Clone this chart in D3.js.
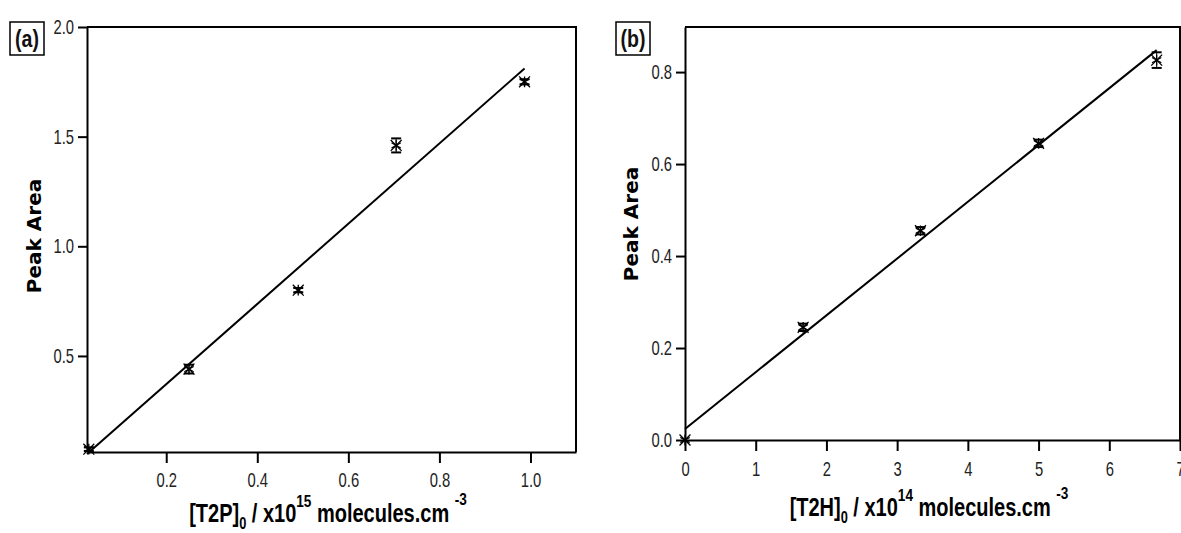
<!DOCTYPE html>
<html>
<head>
<meta charset="utf-8">
<script src="https://cdn.jsdelivr.net/npm/d3@7"></script>
<style>
  body { margin: 0; background: #fff; }
  .tick text { font-family: "Liberation Sans", Arial, sans-serif; font-size: 20px; fill: #222; }
</style>
</head>
<body>
<script>
// panel (a): [T2P]0 (x10^15 molecules/cm3) vs peak area
const t2pConc = [0.03, 0.25, 0.49, 0.705, 0.987];
const t2pArea = [0.075, 0.44, 0.80, 1.46, 1.75];
const t2pErr = [0.008, 0.02, 0.01, 0.032, 0.012];
const t2pFit = [1.83, 0.005];           // slope, intercept
const t2pFitRange = [0.026, 0.987];
const t2pXTicks = [0.2, 0.4, 0.6, 0.8, 1.0];
const t2pYTicks = [0.5, 1.0, 1.5, 2.0];

// panel (b): [T2H]0 (x10^14 molecules/cm3) vs peak area
const t2hConc = [0, 1.67, 3.33, 5.0, 6.67];
const t2hArea = [0, 0.245, 0.455, 0.645, 0.826];
const t2hErr = [0, 0.008, 0.008, 0.008, 0.017];
const t2hFit = [0.1235, 0.024];
const t2hFitRange = [0, 6.67];
const t2hXTicks = [0, 1, 2, 3, 4, 5, 6, 7];
const t2hYTicks = [0.0, 0.2, 0.4, 0.6, 0.8];

const W = 1181, H = 533;
const narrow = 0.8;   // no narrow font installed, squeeze Liberation Sans instead
const tickNarrow = 0.74;

const svg = d3.select("body").append("svg")
  .attr("width", W)
  .attr("height", H);

function squeeze(sel, k) {
  sel.each(function() {
    const t = d3.select(this);
    t.attr("x", +t.attr("x") / k).attr("transform", `scale(${k},1)`);
  });
}

function drawPanel(p) {
  const x = d3.scaleLinear().domain(p.xDomain).range([p.left, p.right]);
  const y = d3.scaleLinear().domain(p.yDomain).range([p.bottom, p.top]);
  const g = svg.append("g");

  // top and right frame
  g.append("path")
    .attr("d", `M${p.left},${p.top}H${p.right}V${p.bottom}`)
    .attr("fill", "none")
    .attr("stroke", "#000")
    .attr("stroke-width", 2);

  // axes
  const xa = g.append("g")
    .attr("transform", `translate(0,${p.bottom})`)
    .call(d3.axisBottom(x).tickValues(p.xTicks).tickSize(11).tickSizeOuter(0)
      .tickPadding(p.xPad).tickFormat(p.xFmt));
  const ya = g.append("g")
    .attr("transform", `translate(${p.left},0)`)
    .call(d3.axisLeft(y).tickValues(p.yTicks).tickSize(9).tickSizeOuter(0)
      .tickPadding(4).tickFormat(d3.format(".1f")));
  [xa, ya].forEach(a => {
    a.select(".domain").attr("stroke-width", 2);
    a.selectAll(".tick line").attr("stroke-width", 2);
    squeeze(a.selectAll(".tick text"), tickNarrow);
  });

  // fit line
  const line = d3.line().x(d => x(d)).y(d => y(p.fit[0] * d + p.fit[1]));
  g.append("path")
    .datum(p.fitRange)
    .attr("d", line)
    .attr("fill", "none")
    .attr("stroke", "#000")
    .attr("stroke-width", 2);

  const pts = p.xs.map((d, i) => ({ x: d, y: p.ys[i], e: p.err[i] }));

  // error bars
  const eb = g.selectAll(".eb").data(pts).enter().append("g")
    .attr("stroke", "#000");
  eb.append("line")
    .attr("x1", d => x(d.x)).attr("x2", d => x(d.x))
    .attr("y1", d => y(d.y - d.e)).attr("y2", d => y(d.y + d.e))
    .attr("stroke-width", 1);
  [-1, 1].forEach(s => {
    eb.append("line")
      .attr("x1", d => x(d.x) - 5).attr("x2", d => x(d.x) + 5)
      .attr("y1", d => y(d.y + s * d.e)).attr("y2", d => y(d.y + s * d.e))
      .attr("stroke-width", d => d.e > 0 ? 2 : 0);
  });

  // asterisk markers
  [d3.symbolAsterisk, d3.symbolTimes].forEach(t => {
    g.selectAll(null).data(pts).enter().append("path")
      .attr("d", d3.symbol(t, 80))
      .attr("transform", d => `translate(${x(d.x)},${y(d.y)})`)
      .attr("fill", "none")
      .attr("stroke", "#000")
      .attr("stroke-width", 1.3);
  });

  // y title
  g.append("text")
    .attr("transform", `translate(${p.yTitleX},${p.yTitleY}) rotate(-90)`)
    .attr("text-anchor", "middle")
    .attr("font-family", "DejaVu Sans, sans-serif")
    .attr("font-weight", "bold")
    .attr("font-size", 20)
    .text("Peak Area");

  // x title with sub/superscripts
  const t = g.append("text")
    .attr("transform", `translate(${p.xTitleX},${p.xTitleY}) scale(${narrow},1)`)
    .attr("text-anchor", "middle")
    .attr("font-family", "Liberation Sans, Arial, sans-serif")
    .attr("font-weight", "bold")
    .attr("font-size", 25);
  t.append("tspan").text(p.species);
  t.append("tspan").attr("dy", 7).attr("font-size", 16).text("0");
  t.append("tspan").attr("dy", -7).text(" / x10");
  t.append("tspan").attr("dy", -15).attr("font-size", 17).text(p.power);
  t.append("tspan").attr("dy", 15).text(" molecules.cm");
  t.append("tspan").attr("dy", -17).attr("dx", 7).attr("font-size", 17).text("-3");

  // panel letter in box
  g.append("rect")
    .attr("x", p.boxX).attr("y", 22).attr("width", 34).attr("height", 33)
    .attr("fill", "none").attr("stroke", "#000").attr("stroke-width", 1.5);
  g.append("text")
    .attr("transform", `translate(${p.boxX + 17},47) scale(0.85,1)`)
    .attr("text-anchor", "middle")
    .attr("font-family", "Liberation Sans, Arial, sans-serif")
    .attr("font-weight", "bold")
    .attr("font-size", 23)
    .attr("fill", "#111")
    .text(p.letter);
}

drawPanel({
  left: 87, right: 576, top: 27, bottom: 452,
  xDomain: [0.026, 1.10], yDomain: [0.062, 2.0],
  xTicks: t2pXTicks, yTicks: t2pYTicks, xFmt: d3.format(".1f"), xPad: 10,
  xs: t2pConc, ys: t2pArea, err: t2pErr,
  fit: t2pFit, fitRange: t2pFitRange,
  yTitleX: 41, yTitleY: 236,
  xTitleX: 328, xTitleY: 522,
  species: "[T2P]", power: "15",
  boxX: 10, letter: "(a)"
});

drawPanel({
  left: 685, right: 1180, top: 27, bottom: 440,
  xDomain: [0, 7], yDomain: [0, 0.898],
  xTicks: t2hXTicks, yTicks: t2hYTicks, xFmt: d3.format("d"), xPad: 11,
  xs: t2hConc, ys: t2hArea, err: t2hErr,
  fit: t2hFit, fitRange: t2hFitRange,
  yTitleX: 638, yTitleY: 224,
  xTitleX: 929, xTitleY: 516,
  species: "[T2H]", power: "14",
  boxX: 616, letter: "(b)"
});
</script>
</body>
</html>
